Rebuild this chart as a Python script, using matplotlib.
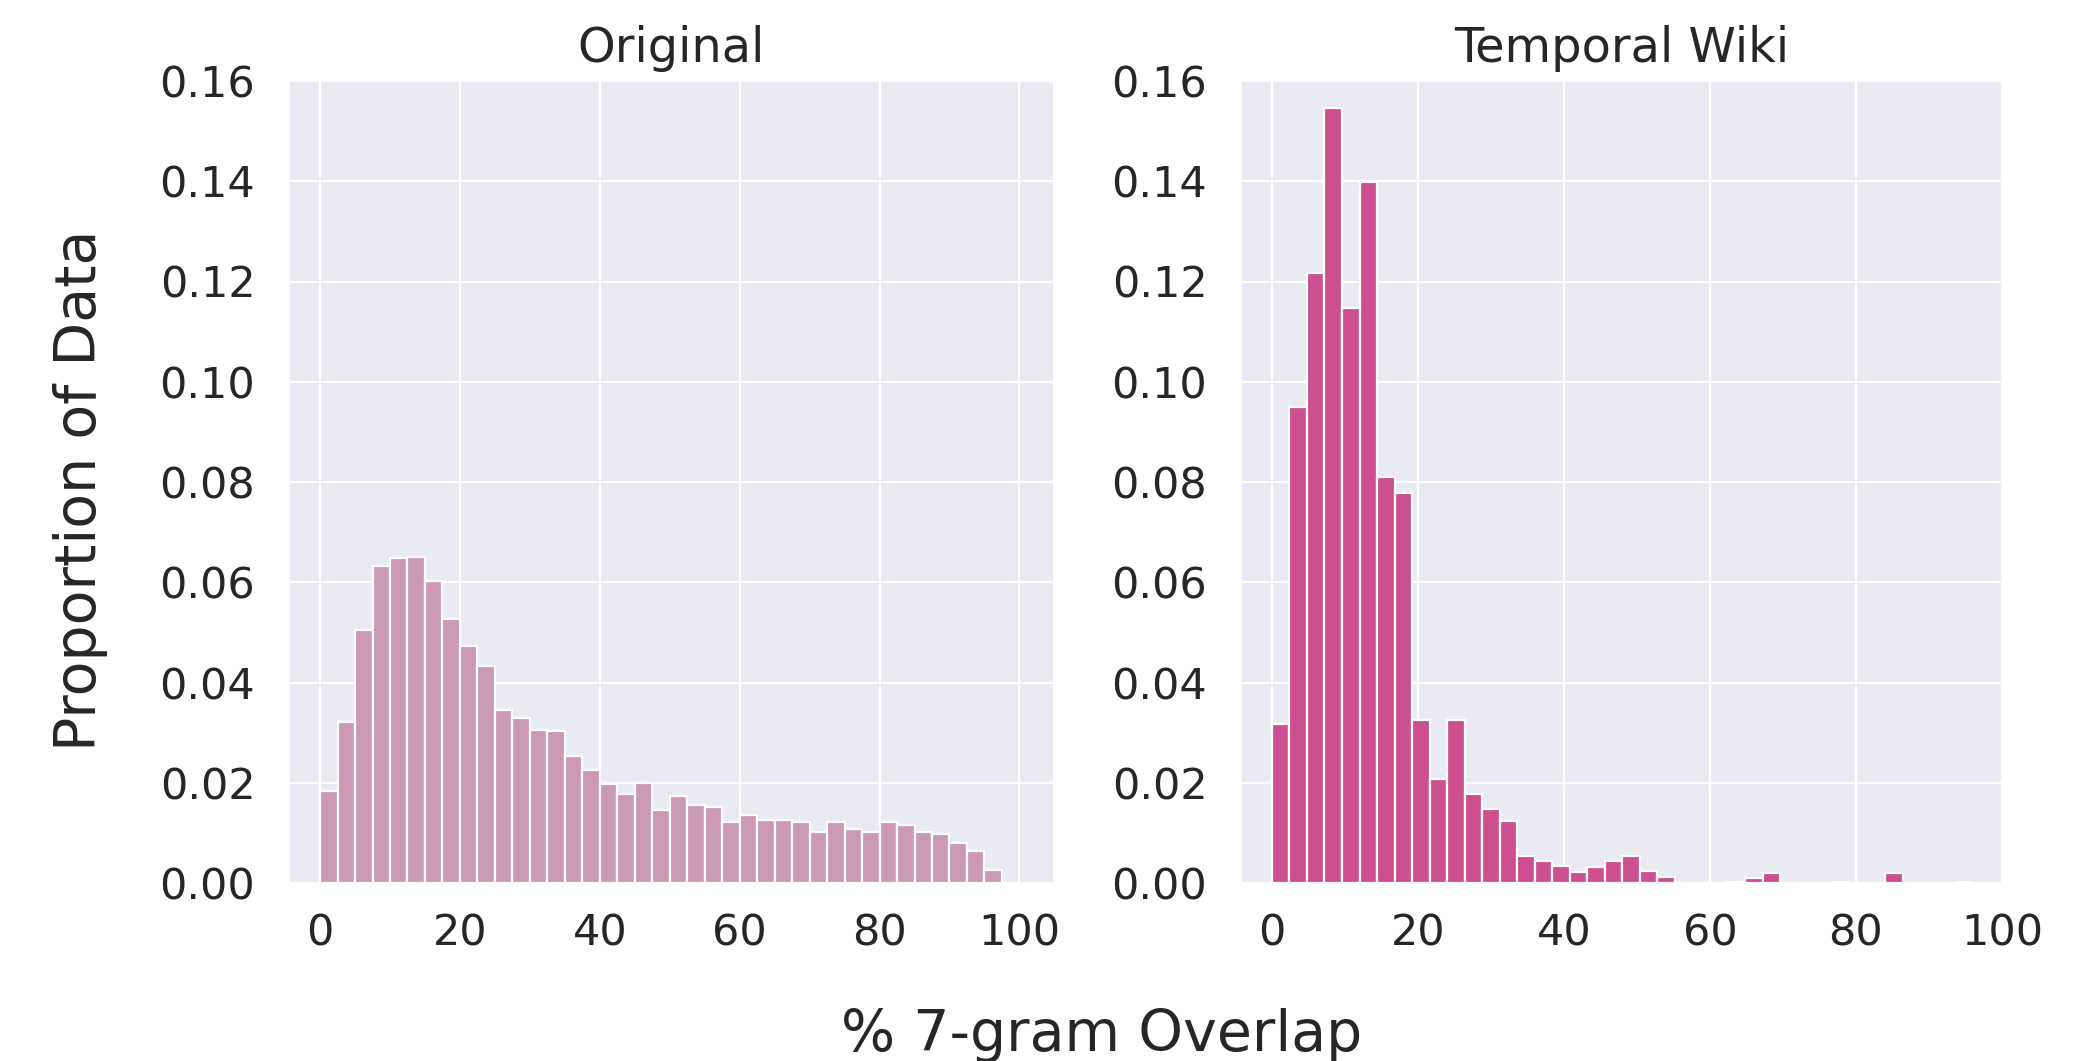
import numpy as np
import matplotlib
matplotlib.use("Agg")
import matplotlib.pyplot as plt

# ---- data ----
titles = ["Original", "Temporal Wiki"]
original_binwidth = 2.5
original_props = [0.0183, 0.0321, 0.0504, 0.0632, 0.0649, 0.0651, 0.0603, 0.0527, 0.0473, 0.0433,
                  0.0345, 0.0330, 0.0305, 0.0303, 0.0254, 0.0226, 0.0198, 0.0177, 0.0199, 0.0146,
                  0.0173, 0.0156, 0.0151, 0.0121, 0.0135, 0.0126, 0.0126, 0.0121, 0.0102, 0.0121,
                  0.0108, 0.0101, 0.0121, 0.0115, 0.0101, 0.0098, 0.0080, 0.0063, 0.0026, 0.0]
temporal_binwidth = 2.4
temporal_props = [0.0318, 0.0949, 0.1217, 0.1547, 0.1148, 0.1399, 0.0809, 0.0779, 0.0326, 0.0207,
                  0.0326, 0.0177, 0.0148, 0.0124, 0.0053, 0.0044, 0.0033, 0.0022, 0.0032, 0.0044,
                  0.0054, 0.0023, 0.0011, 0.0, 0.0, 0.0, 0.0002, 0.0010, 0.0020, 0.0,
                  0.0, 0.0, 0.0002, 0.0, 0.0, 0.0020, 0.0, 0.0, 0.0, 0.0002]
xticks = [0, 20, 40, 60, 80, 100]
yticks = [0.00, 0.02, 0.04, 0.06, 0.08, 0.10, 0.12, 0.14, 0.16]
xlabel = "% 7-gram Overlap"
ylabel = "Proportion of Data"

colors = ["#cc99b5", "#cd4f8f"]
TEXT = "#262626"

plt.rcParams['font.family'] = ['DejaVu Sans']
fig = plt.figure(figsize=(20.95, 10.61), dpi=100)

axes_pos = [[290/2095, 1-883/1061, 763/2095, 802/1061],
            [1242/2095, 1-883/1061, 760/2095, 802/1061]]
xlims = [(-4.3, 104.8), (-4.1, 100.0)]

datasets = [(original_binwidth, original_props), (temporal_binwidth, temporal_props)]

for i, (bw, props) in enumerate(datasets):
    ax = fig.add_axes(axes_pos[i])
    ax.set_facecolor("#eaeaf2")
    for s in ax.spines.values():
        s.set_visible(False)
    ax.grid(True, color="white", linewidth=1.6)
    ax.set_axisbelow(True)
    left_edges = np.arange(len(props)) * bw
    ax.bar(left_edges, props, width=bw, align="edge", color=colors[i],
           edgecolor="white", linewidth=1.6)
    ax.set_xlim(*xlims[i])
    ax.set_ylim(0, 0.16)
    ax.set_xticks(xticks)
    ax.set_yticks(yticks)
    ax.set_yticklabels([f"{v:.2f}" for v in yticks])
    ax.tick_params(axis='y', length=0, pad=25, labelsize=31, labelcolor=TEXT)
    ax.tick_params(axis='x', length=0, pad=21, labelsize=31, labelcolor=TEXT)
    ax.set_title(titles[i], fontsize=34.5, color=TEXT, pad=14)

fig.text(1102/2095, 1-1051/1061, xlabel, ha="center", va="baseline", fontsize=41, color=TEXT)
fig.text(81/2095, 1-490/1061, ylabel, ha="center", va="center", rotation=90, fontsize=41, color=TEXT)

fig.savefig("out.png", dpi=100)
